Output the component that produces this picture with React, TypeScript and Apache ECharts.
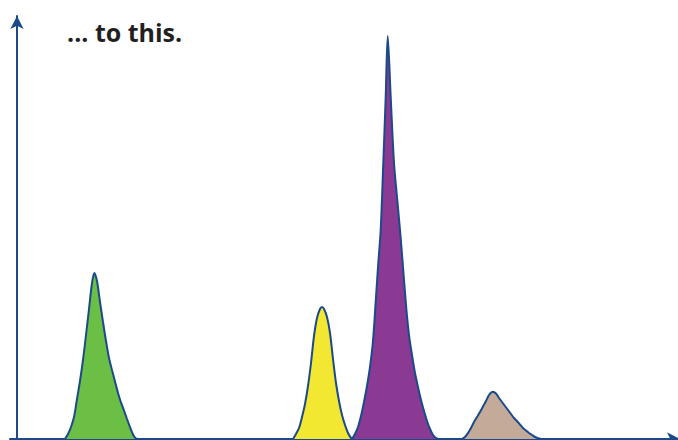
import React, { useEffect, useRef } from "react";
import * as echarts from "echarts";

// x = horizontal distance from the y axis, y = height above the baseline (chart units)
const greenPeak: number[][] = [
  [48, 0], [51, 5], [54, 12], [57, 22], [60, 40], [63, 58], [66, 79], [69, 104], [72, 130], [75, 156],
  [77.3, 166], [80, 158], [83, 137], [86, 117], [89, 98], [92, 81], [95, 69], [98, 57.5], [101, 46],
  [104, 36.5], [107, 28.5], [110, 20], [113, 12], [116, 4.5], [118.5, 0.8], [121, 0],
];
const yellowPeak: number[][] = [
  [276, 0], [279, 5], [282, 11], [285, 22], [288, 35], [291, 53], [294, 76], [297, 103], [300, 121],
  [303, 130], [305, 132], [307, 130], [310, 122], [313, 106], [316, 80], [319, 56], [322, 38], [325, 24],
  [328, 14], [331, 6], [334, 1], [336, 0],
];
const purplePeak: number[][] = [
  [335, 0], [338, 5], [341, 12], [344, 23], [347, 37], [350, 53], [353, 72], [356, 98], [359, 142],
  [361.3, 176], [363.7, 209], [366.3, 276], [368.7, 342], [370.7, 403], [373.7, 342], [377, 276],
  [380, 242], [383, 209], [386, 172], [389, 134], [392, 104], [395, 84], [398, 66], [401, 52], [404, 39],
  [407, 28], [410, 18], [413, 10], [416, 4], [419, 1], [421, 0],
];
const tanPeak: number[][] = [
  [445, 0], [448, 2], [451, 6], [454, 11], [457, 17], [460, 22], [463, 27], [466, 32.5], [469, 38],
  [472, 44], [475.7, 47.3], [479, 45.5], [482, 41], [485, 37], [488, 33], [491, 29], [494, 25], [497, 21],
  [500, 18], [503, 14.5], [506, 11], [509, 8.5], [512, 6], [515, 4], [518, 2], [521, 0.8], [524, 0],
];
const titleText = "... to this.";

const NAVY = "#1b4a8a";

export default function App() {
  const ref = useRef<HTMLDivElement>(null);
  useEffect(() => {
    document.body.style.margin = "0";
    document.body.style.overflow = "hidden";
    const chart = echarts.init(ref.current!, undefined, { renderer: "svg" });
    const mk = (data: number[][], color: string) => ({
      type: "line",
      data,
      smooth: 0.3,
      showSymbol: false,
      symbol: "none",
      lineStyle: { color: NAVY, width: 2 },
      areaStyle: { color, opacity: 1 },
      z: 3,
    });
    chart.setOption({
      animation: false,
      grid: { left: 10, right: 20, top: 16, bottom: 1 },
      xAxis: {
        type: "value",
        min: -7,
        max: 663,
        axisLine: { show: true, lineStyle: { color: NAVY, width: 2 }, symbol: ["none", "arrow"], symbolSize: [10, 13] },
        axisTick: { show: false },
        axisLabel: { show: false },
        splitLine: { show: false },
      },
      yAxis: {
        type: "value",
        min: 0,
        max: 423,
        axisLine: { show: true, onZero: true, lineStyle: { color: NAVY, width: 2 }, symbol: ["none", "arrow"], symbolSize: [10, 13] },
        axisTick: { show: false },
        axisLabel: { show: false },
        splitLine: { show: false },
      },
      graphic: [
        {
          type: "text",
          left: 67,
          top: 19,
          style: { text: titleText, fill: "#231f20", font: "bold 25px 'Open Sans', sans-serif" },
        },
      ],
      series: [
        mk(greenPeak, "#6cbf45"),
        mk(yellowPeak, "#f2e832"),
        mk(purplePeak, "#8b3a93"),
        mk(tanPeak, "#c4aa98"),
      ],
    });
    return () => chart.dispose();
  }, []);
  return (
    <div style={{ width: 678, height: 440, overflow: "hidden", position: "relative" }}>
      <div ref={ref} style={{ width: 700, height: 440, position: "absolute", left: 0, top: 0 }} />
    </div>
  );
}
